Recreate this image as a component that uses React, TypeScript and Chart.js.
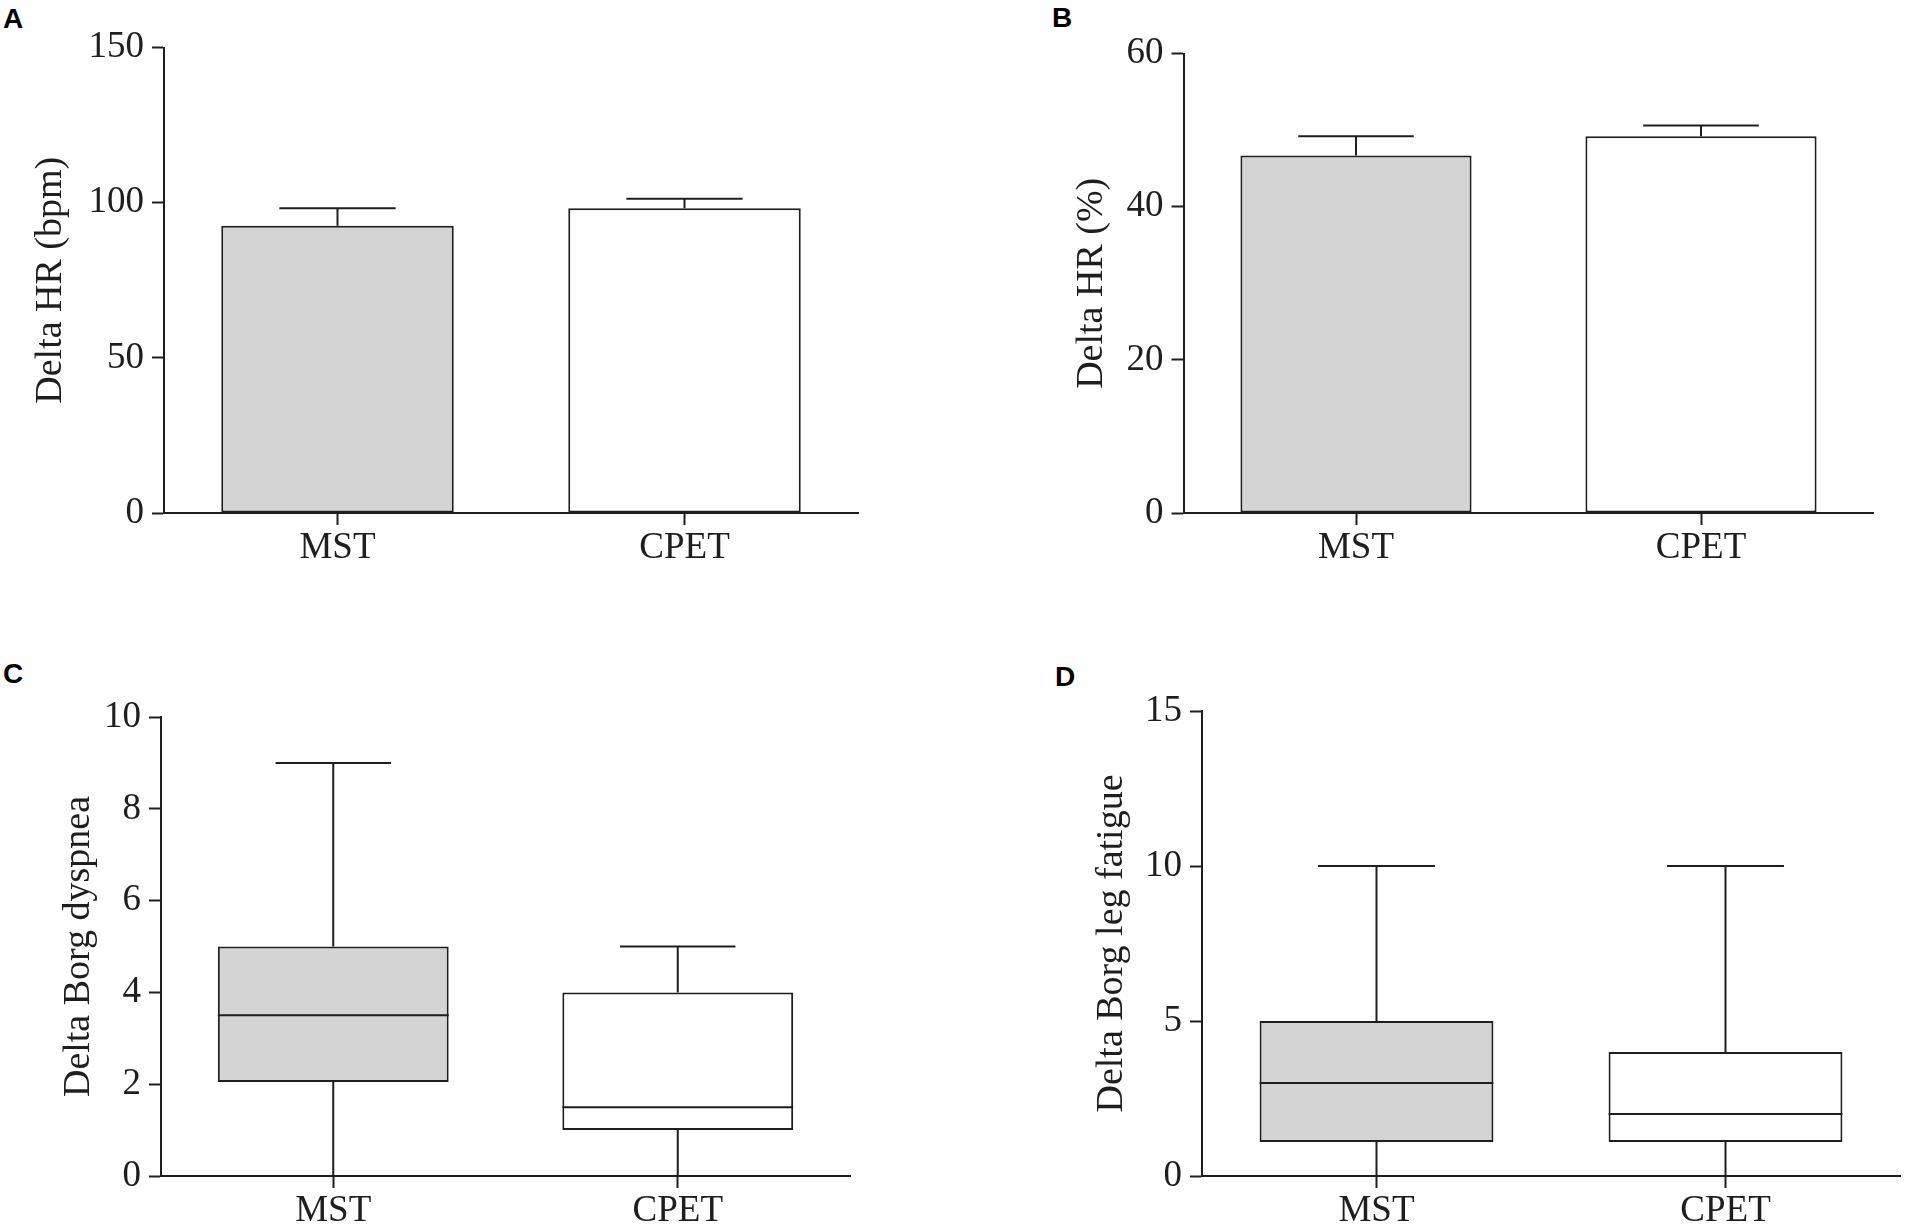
import { useEffect, useRef } from 'react';
import { Chart, registerables, type ChartConfiguration, type Plugin } from 'chart.js';

Chart.register(...registerables);

const categories = ['MST', 'CPET'];
const fillColors = ['#d4d4d4', '#ffffff'];

// A: Delta HR (bpm), mean with upper error bar
const hrBpmMean = [92.6, 98.2];
const hrBpmErr = [5.6, 3.1];

// B: Delta HR (%)
const hrPctMean = [46.7, 49.2];
const hrPctErr = [2.5, 1.4];

// C: Delta Borg dyspnea (box plot)
const dyspneaMin = [0, 0];
const dyspneaQ1 = [2.05, 1];
const dyspneaMedian = [3.5, 1.5];
const dyspneaQ3 = [5, 4];
const dyspneaMax = [9, 5];

// D: Delta Borg leg fatigue (box plot)
const legMin = [0, 0];
const legQ1 = [1.1, 1.1];
const legMedian = [3, 2];
const legQ3 = [5, 4];
const legMax = [10, 10];

const INK = '#1e1e1e';
const SERIF = "'Liberation Serif', 'Times New Roman', serif";

function errorBarPlugin(err: number[]): Plugin<'bar'> {
  return {
    id: 'errorBars',
    afterDatasetsDraw(chart) {
      const { ctx, scales } = chart;
      const meta = chart.getDatasetMeta(0);
      const values = chart.data.datasets[0].data as number[];
      ctx.save();
      ctx.strokeStyle = INK;
      ctx.lineWidth = 2;
      meta.data.forEach((el: any, i: number) => {
        const { x, width } = el.getProps(['x', 'width'], true);
        const yTop = scales.y.getPixelForValue(values[i]);
        const yErr = scales.y.getPixelForValue(values[i] + err[i]);
        const half = width / 4;
        ctx.beginPath();
        ctx.moveTo(x, yTop);
        ctx.lineTo(x, yErr);
        ctx.moveTo(x - half, yErr);
        ctx.lineTo(x + half, yErr);
        ctx.stroke();
      });
      ctx.restore();
    },
  };
}

function boxPlugin(min: number[], median: number[], max: number[], q1: number[], q3: number[]): Plugin<'bar'> {
  return {
    id: 'boxWhiskers',
    afterDatasetsDraw(chart) {
      const { ctx, scales } = chart;
      const meta = chart.getDatasetMeta(0);
      const y = scales.y;
      ctx.save();
      ctx.strokeStyle = INK;
      ctx.lineWidth = 2;
      meta.data.forEach((el: any, i: number) => {
        const { x, width } = el.getProps(['x', 'width'], true);
        const cap = width / 4;
        const yMed = y.getPixelForValue(median[i]);
        const yMax = y.getPixelForValue(max[i]);
        const yMin = y.getPixelForValue(min[i]);
        const yQ1 = y.getPixelForValue(q1[i]);
        const yQ3 = y.getPixelForValue(q3[i]);
        ctx.beginPath();
        // median
        ctx.moveTo(x - width / 2, yMed);
        ctx.lineTo(x + width / 2, yMed);
        // upper whisker
        ctx.moveTo(x, yQ3);
        ctx.lineTo(x, yMax);
        ctx.moveTo(x - cap, yMax);
        ctx.lineTo(x + cap, yMax);
        // lower whisker
        ctx.moveTo(x, yQ1);
        ctx.lineTo(x, yMin);
        ctx.moveTo(x - cap, yMin);
        ctx.lineTo(x + cap, yMin);
        ctx.stroke();
      });
      ctx.restore();
    },
  };
}

interface PanelSpec {
  letter: string;
  letterLeft: number;
  letterTop: number;
  left: number;
  top: number;
  width: number;
  height: number;
  padLeft: number;
  padTop: number;
  padRight: number;
  axisWidth: number;
  axisHeight: number;
  yMax: number;
  yStep: number;
  title: string;
  data: any[];
  plugin: Plugin<'bar'>;
}

function Panel({ spec }: { spec: PanelSpec }) {
  const canvasRef = useRef<HTMLCanvasElement>(null);

  useEffect(() => {
    if (!canvasRef.current) return;
    const tickFont = { family: SERIF, size: 37, lineHeight: 1 };
    const config: ChartConfiguration<'bar'> = {
      type: 'bar',
      data: {
        labels: categories,
        datasets: [
          {
            data: spec.data,
            backgroundColor: fillColors,
            borderColor: INK,
            borderWidth: 2,
            borderSkipped: false,
            categoryPercentage: 1,
            barPercentage: 0.67,
          },
        ],
      },
      options: {
        responsive: false,
        animation: false,
        devicePixelRatio: 1,
        layout: { padding: { left: spec.padLeft, top: spec.padTop, right: spec.padRight, bottom: 0 } },
        plugins: { legend: { display: false }, tooltip: { enabled: false } },
        scales: {
          x: {
            offset: true,
            grid: {
              display: true,
              offset: false,
              drawOnChartArea: false,
              drawTicks: true,
              tickLength: 12,
              tickWidth: 2,
              tickColor: INK,
            },
            border: { display: true, color: INK, width: 2 },
            ticks: { color: INK, font: tickFont, padding: 5, maxRotation: 0 },
            afterFit: (scale: any) => {
              scale.height = spec.axisHeight;
            },
          },
          y: {
            min: 0,
            max: spec.yMax,
            grid: {
              display: true,
              drawOnChartArea: false,
              drawTicks: true,
              tickLength: 12,
              tickWidth: 2,
              tickColor: INK,
            },
            border: { display: true, color: INK, width: 2 },
            ticks: { color: INK, font: tickFont, padding: 8, stepSize: spec.yStep },
            title: {
              display: true,
              text: spec.title,
              color: INK,
              font: { family: SERIF, size: 38 },
              padding: 0,
            },
            afterFit: (scale: any) => {
              scale.width = spec.axisWidth;
            },
          },
        },
      },
      plugins: [spec.plugin],
    };
    const chart = new Chart(canvasRef.current, config);
    return () => chart.destroy();
  }, [spec]);

  return (
    <>
      <div
        style={{
          position: 'absolute',
          left: spec.letterLeft,
          top: spec.letterTop,
          font: "bold 28px 'Liberation Sans', Arial, sans-serif",
          lineHeight: '28px',
          color: '#000',
        }}
      >
        {spec.letter}
      </div>
      <canvas
        ref={canvasRef}
        width={spec.width}
        height={spec.height}
        style={{ position: 'absolute', left: spec.left, top: spec.top }}
      />
    </>
  );
}

const panels: PanelSpec[] = [
  {
    letter: 'A', letterLeft: 3, letterTop: 5,
    left: 0, top: 0, width: 900, height: 600,
    padLeft: 28, padTop: 47.5, padRight: 42, axisWidth: 136, axisHeight: 87,
    yMax: 150, yStep: 50, title: 'Delta HR (bpm)',
    data: hrBpmMean, plugin: errorBarPlugin(hrBpmErr),
  },
  {
    letter: 'B', letterLeft: 1052, letterTop: 4,
    left: 1000, top: 0, width: 905, height: 600,
    padLeft: 69, padTop: 53.6, padRight: 31.5, axisWidth: 114.5, axisHeight: 87,
    yMax: 60, yStep: 20, title: 'Delta HR (%)',
    data: hrPctMean, plugin: errorBarPlugin(hrPctErr),
  },
  {
    letter: 'C', letterLeft: 3, letterTop: 660,
    left: 0, top: 620, width: 900, height: 607,
    padLeft: 56, padTop: 97, padRight: 50, axisWidth: 105, axisHeight: 51,
    yMax: 10, yStep: 2, title: 'Delta Borg dyspnea',
    data: dyspneaQ1.map((q, i) => [q, dyspneaQ3[i]]),
    plugin: boxPlugin(dyspneaMin, dyspneaMedian, dyspneaMax, dyspneaQ1, dyspneaQ3),
  },
  {
    letter: 'D', letterLeft: 1055, letterTop: 663,
    left: 1000, top: 620, width: 905, height: 607,
    padLeft: 89, padTop: 91, padRight: 5, axisWidth: 113, axisHeight: 51,
    yMax: 15, yStep: 5, title: 'Delta Borg leg fatigue',
    data: legQ1.map((q, i) => [q, legQ3[i]]),
    plugin: boxPlugin(legMin, legMedian, legMax, legQ1, legQ3),
  },
];

export default function App() {
  return (
    <div
      style={{
        position: 'absolute',
        left: 0,
        top: 0,
        width: 1905,
        height: 1227,
        background: '#fff',
        overflow: 'hidden',
      }}
    >
      {panels.map((p) => (
        <Panel key={p.letter} spec={p} />
      ))}
    </div>
  );
}
